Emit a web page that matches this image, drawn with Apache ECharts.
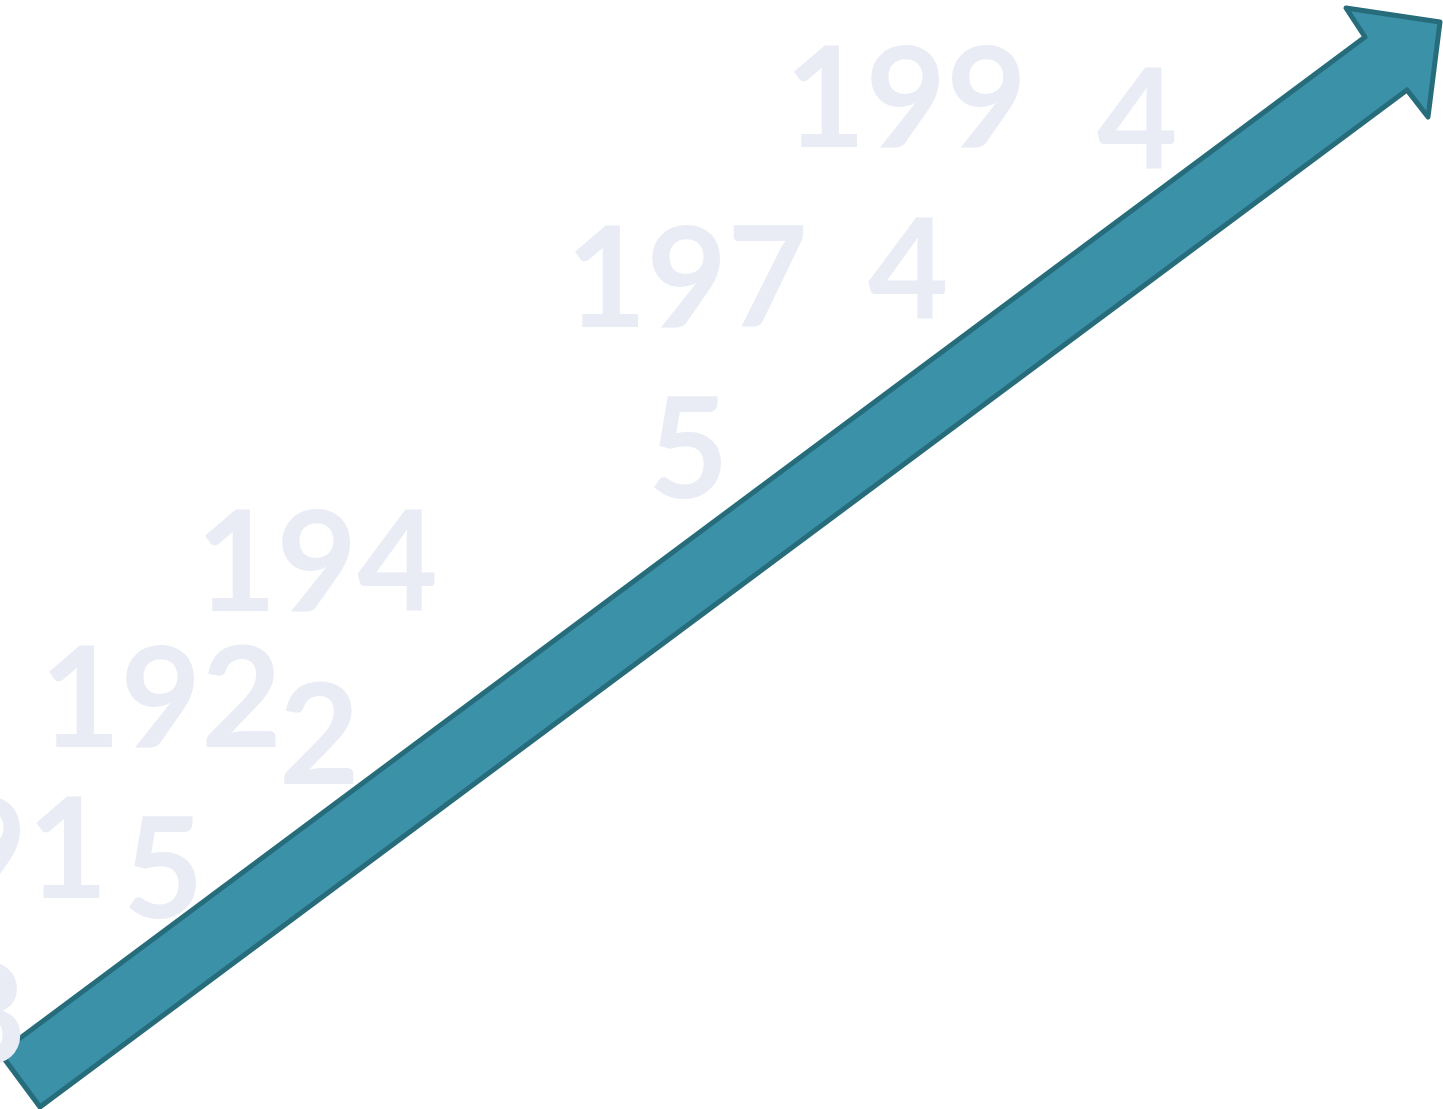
<!DOCTYPE html>
<html><head><meta charset="utf-8">
<script src="https://cdn.jsdelivr.net/npm/echarts@6/dist/echarts.min.js"></script>
<style>html,body{margin:0;padding:0;background:#fff;overflow:hidden}#c{width:1443px;height:1109px}</style>
</head><body><div id="c"></div>
<script>
// Timeline years (data)
const years = ['1915', '1918', '1922', '1945', '1974', '1994'];

// Layout (not data): anchor [x, digitCenterY] of leading three digits and of the final digit
const headLayout = [[-134, 853], [-330, 1018], [40, 702], [196, 566], [566, 282], [785, 102]];
const tailLayout = [[123, 873], [-55, 1019], [279, 739], [648, 453], [868, 274], [1097, 124]];

// Arrow outline (decoration)
const arrowShape = [[40, 1107], [1407, 90], [1428, 117], [1440, 22], [1346, 8], [1365, 37], [0, 1053]];

const chart = echarts.init(document.getElementById('c'), null, { renderer: 'canvas' });
const textColor = '#E9ECF4';
const font = 'bold 139px Lato';
const elements = [{
  type: 'polygon',
  z: 1,
  shape: { points: arrowShape },
  style: { fill: '#3A91A8', stroke: '#276C7B', lineWidth: 5, lineJoin: 'round' }
}];
years.forEach((y, i) => {
  elements.push({
    type: 'text', z: 2, x: headLayout[i][0], y: headLayout[i][1],
    style: { text: y.slice(0, 3), fill: textColor, font: font, align: 'left', verticalAlign: 'middle' }
  });
  elements.push({
    type: 'text', z: 2, x: tailLayout[i][0], y: tailLayout[i][1],
    style: { text: y.slice(3), fill: textColor, font: font, align: 'left', verticalAlign: 'middle' }
  });
});
chart.setOption({
  backgroundColor: '#ffffff',
  animation: false,
  graphic: { elements: elements }
});
</script>
</body></html>
